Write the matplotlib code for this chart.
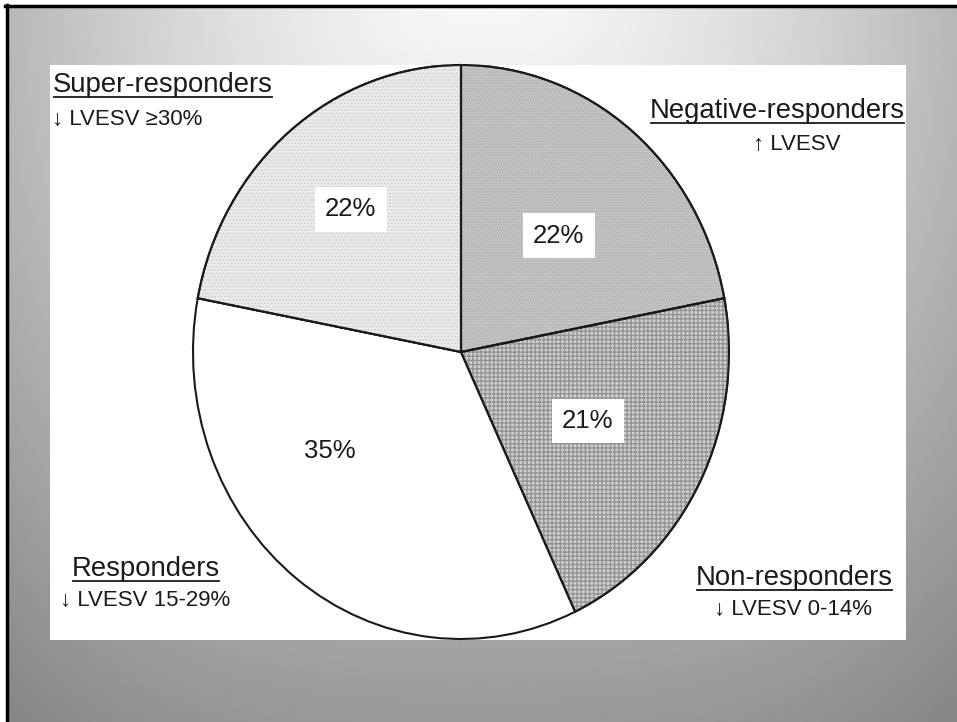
import numpy as np
import matplotlib
matplotlib.use("Agg")
import matplotlib.pyplot as plt
from matplotlib.patches import Rectangle, Wedge
from matplotlib.lines import Line2D

plt.rcParams['font.family'] = ['Liberation Sans', 'DejaVu Sans']

# ---- data ----
categories = ["Negative-responders", "Non-responders", "Responders", "Super-responders"]
shares = [22, 21, 35, 22]
pct_labels = ["22%", "21%", "35%", "22%"]
sub_labels = ["\u2191 LVESV", "\u2193 LVESV 0-14%", "\u2193 LVESV 15-29%", "\u2193 LVESV \u226530%"]

# ---- style ----
face_colors = ["#c6c6c6", "#d0d0d0", "#ffffff", "#ededed"]
hatch_pat = ["......", "++++", None, "....."]
hatch_cols = ["#b0b0b0", "#949494", None, "#d0d0d0"]
pct_r = [0.545, 0.53, 0.60, 0.645]
pct_dang = [-2.3, 0.0, -17.0, 0.0]

W, H = 957, 722
fig = plt.figure(figsize=(W / 100, H / 100), dpi=100)
fig.patch.set_facecolor("white")

# background gradient
bg = fig.add_axes([0, 0, 1, 1])
bg.set_xlim(0, W)
bg.set_ylim(H, 0)
bg.axis("off")
xx, yy = np.meshgrid(np.linspace(0, 1, 400), np.linspace(0, 1, 300))
xn = np.abs(xx - 0.5) / 0.5
drop = np.sqrt((0.25 * xn ** 1.5) ** 2 + (0.37 * yy) ** 2)
val = np.clip(0.97 - drop, 0, 1)
bg.imshow(val, cmap="gray", vmin=0, vmax=1, extent=[8, W, H, 8], aspect="auto",
          interpolation="bilinear")
bg.add_line(Line2D([5, W], [6, 6], color="black", lw=2.5))
bg.add_line(Line2D([6.5, 6.5], [5, H], color="black", lw=2.5))
bg.add_patch(Rectangle((50, 65), 856, 575, facecolor="white", edgecolor="none"))

# pie
ax = fig.add_axes([193 / W, 1 - 639 / H, 536 / W, 574 / H])
plt.rcParams['hatch.linewidth'] = 1.0
wedges, _ = ax.pie(shares, startangle=90, counterclock=False, radius=1,
                   colors=face_colors,
                   wedgeprops=dict(edgecolor="#1a1a1a", linewidth=1.5))
for w, hp, hc in zip(wedges, hatch_pat, hatch_cols):
    if hp:
        hw = Wedge(w.center, w.r, w.theta1, w.theta2, facecolor="none",
                   edgecolor=hc, hatch=hp, linewidth=0, zorder=w.get_zorder() + 0.1)
        ax.add_patch(hw)
        ov = Wedge(w.center, w.r, w.theta1, w.theta2, facecolor="none",
                   edgecolor="#1a1a1a", linewidth=1.5, zorder=w.get_zorder() + 0.2)
        ax.add_patch(ov)
ax.set_xlim(-1, 1)
ax.set_ylim(-1, 1)
ax.set_aspect("auto")
ax.axis("off")

for w, lab, r, da in zip(wedges, pct_labels, pct_r, pct_dang):
    ang = np.deg2rad((w.theta1 + w.theta2) / 2 + da)
    ax.text(r * np.cos(ang), r * np.sin(ang), lab, ha="center", va="center",
            fontsize=18.5, color="#1a1a1a", zorder=10,
            bbox=dict(boxstyle="square,pad=0.4", facecolor="white", edgecolor="none"))

# outer labels (figure pixel coords, y from top)
title_pos = {"Super-responders": (53, 92, "left"),
             "Negative-responders": (905, 118, "right"),
             "Responders": (72, 576, "left"),
             "Non-responders": (893, 585, "right")}
sub_pos = {"Super-responders": (52, 125, "left"),
           "Negative-responders": (797, 150, "center"),
           "Responders": (60, 606, "left"),
           "Non-responders": (793, 615, "center")}

titles = []
for cat, sub in zip(categories, sub_labels):
    x, y, ha = title_pos[cat]
    t = bg.text(x, y, cat, ha=ha, va="baseline", fontsize=19.8, color="#1a1a1a")
    titles.append(t)
    x2, y2, ha2 = sub_pos[cat]
    bg.text(x2, y2, sub, ha=ha2, va="baseline", fontsize=16, color="#1a1a1a")

fig.canvas.draw()
r = fig.canvas.get_renderer()
inv = bg.transData.inverted()
for t in titles:
    bb = t.get_window_extent(r)
    (x0, _), (x1, _) = inv.transform([[bb.x0, bb.y0], [bb.x1, bb.y0]])
    yb = t.get_position()[1] + 5
    bg.add_line(Line2D([x0 + 1, x1 - 1], [yb, yb], color="#1a1a1a", lw=1.3))

fig.savefig("out.png", dpi=100)
